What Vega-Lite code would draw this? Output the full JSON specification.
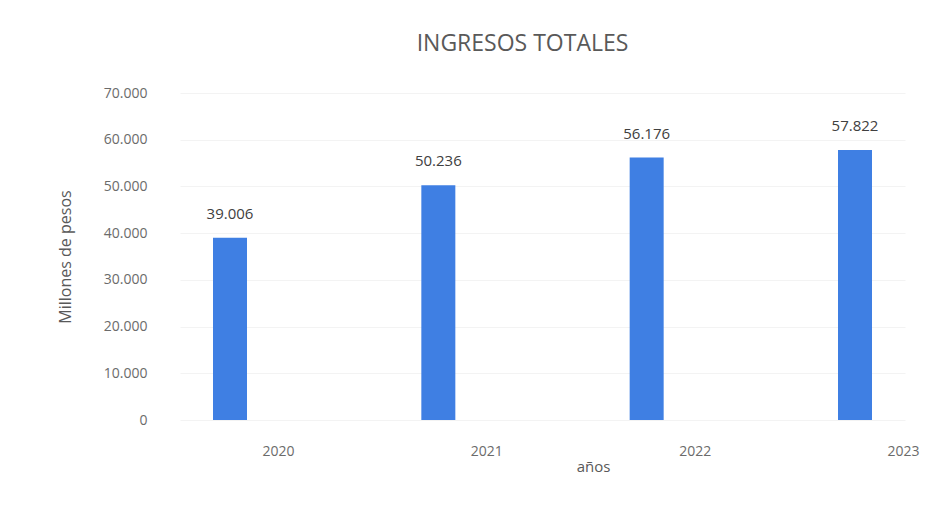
{
  "$schema": "https://vega.github.io/schema/vega-lite/v6.json",
  "autosize": "none",
  "width": 725,
  "height": 327,
  "padding": {"left": 180, "top": 93, "right": 22, "bottom": 89},
  "background": "white",
  "config": {
    "locale": {"number": {"decimal": ",", "thousands": ".", "grouping": [3], "currency": ["$", ""]}},
    "view": {"stroke": null},
    "font": "Open Sans"
  },
  "title": {
    "text": "INGRESOS TOTALES",
    "fontSize": 23,
    "fontWeight": "normal",
    "color": "#595959",
    "anchor": "middle",
    "dx": -20,
    "offset": 30,
    "font": "Open Sans"
  },
  "data": {
    "values": [
      {"anio": "2020", "ingresos": 39006},
      {"anio": "2021", "ingresos": 50236},
      {"anio": "2022", "ingresos": 56176},
      {"anio": "2023", "ingresos": 57822}
    ]
  },
  "encoding": {
    "x": {
      "field": "anio",
      "type": "ordinal",
      "scale": {"type": "point", "padding": 0.24},
      "axis": {
        "title": "años",
        "labelAngle": 0,
        "labelOffset": 48,
        "labelPadding": 24,
        "labelFontSize": 14,
        "labelColor": "#6b6b6b",
        "titleFontSize": 15,
        "titleFontWeight": "normal",
        "titleColor": "#595959",
        "titleX": 413,
        "titleY": 46,
        "titleBaseline": "middle",
        "domain": false,
        "ticks": false,
        "grid": false
      }
    },
    "y": {
      "field": "ingresos",
      "type": "quantitative",
      "scale": {"domain": [0, 70000]},
      "axis": {
        "title": "Millones de pesos",
        "format": ",d",
        "values": [0, 10000, 20000, 30000, 40000, 50000, 60000, 70000],
        "labelFontSize": 14,
        "labelColor": "#6b6b6b",
        "labelPadding": 33,
        "titleFontSize": 16,
        "titleFontWeight": "normal",
        "titleColor": "#595959",
        "titleX": -115,
        "titleBaseline": "middle",
        "domain": false,
        "ticks": false,
        "gridColor": "#f3f3f3",
        "gridWidth": 1
      }
    }
  },
  "layer": [
    {
      "mark": {"type": "bar", "width": 34, "color": "#3f7fe3"}
    },
    {
      "mark": {"type": "text", "baseline": "bottom", "dy": -16, "fontSize": 15, "color": "#404040"},
      "encoding": {
        "text": {"field": "ingresos", "type": "quantitative", "format": ",d"}
      }
    }
  ]
}
